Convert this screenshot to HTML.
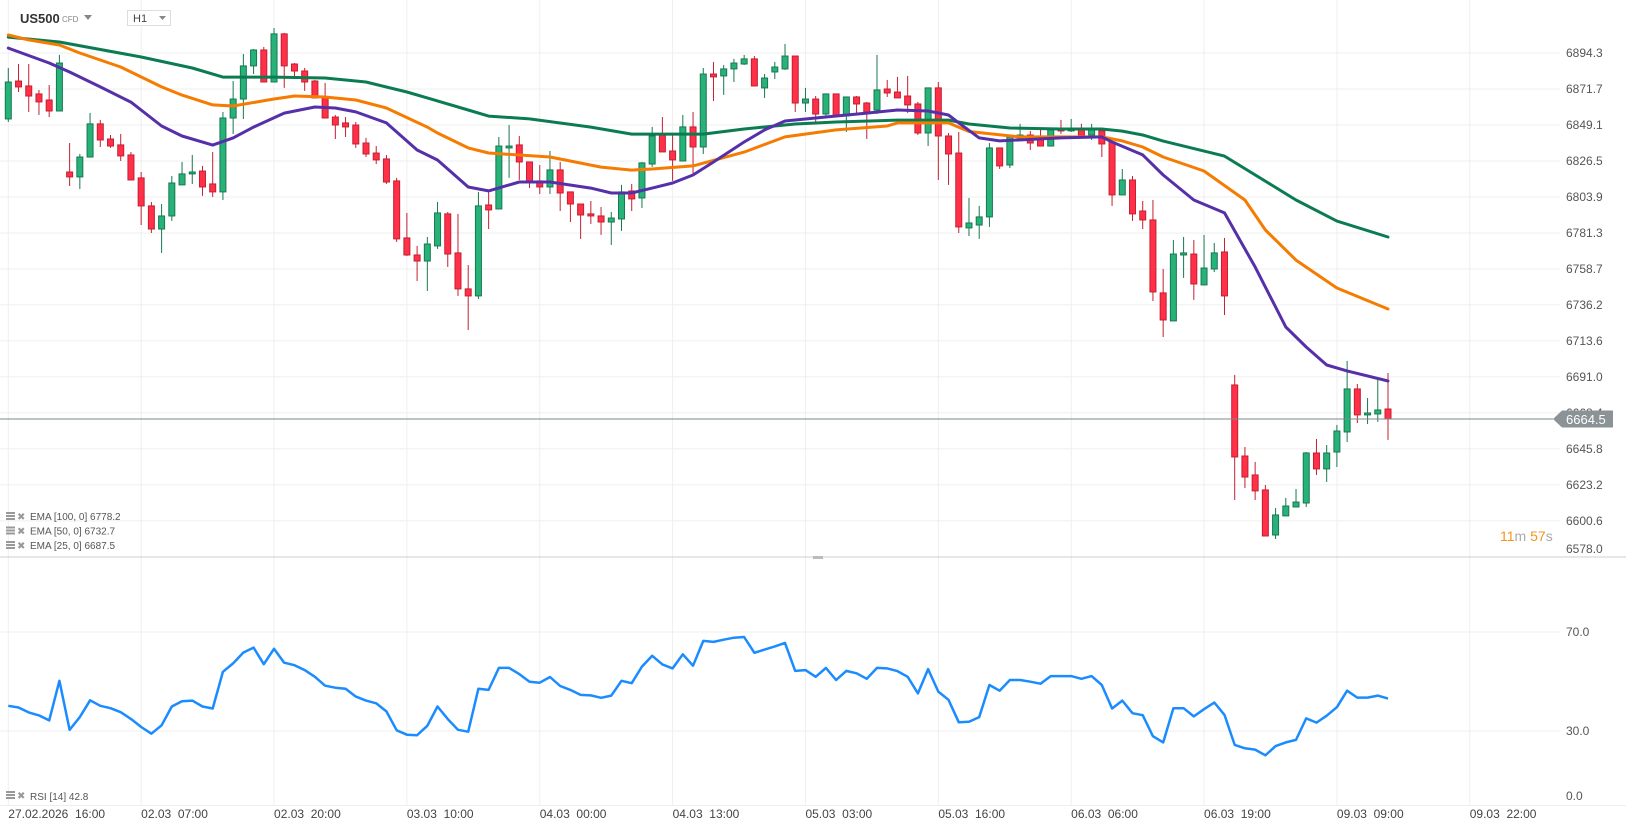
<!DOCTYPE html>
<html><head><meta charset="utf-8"><style>
html,body{margin:0;padding:0;background:#fff;}
svg{display:block;font-family:"Liberation Sans",sans-serif;}
</style></head><body>
<svg id="chart" width="1626" height="831" viewBox="0 0 1626 831" xmlns="http://www.w3.org/2000/svg">
<g id="grid"></g>
<g id="header">
  <text x="20" y="23" font-size="13" font-weight="bold" fill="#333">US500</text>
  <text x="62" y="22" font-size="8" fill="#888">CFD</text>
  <path d="M84 15 L92 15 L88 20 Z" fill="#888"/>
  <rect x="127.5" y="10.5" width="43" height="15" fill="#fff" stroke="#ddd"/>
  <text x="133" y="22" font-size="11" fill="#444">H1</text>
  <path d="M159 16 L166 16 L162.5 20 Z" fill="#888"/>
</g>
<g id="candles"></g>
<g id="emas"></g>
<g id="rsi"></g>
<g id="axes"></g>
</svg>
<script>
const candleOpen=[6852.9,6876.7,6873.6,6868.6,6864.8,6857.9,6819.6,6816.5,6829.0,6849.8,6840.3,6836.6,6830.3,6815.9,6798.3,6783.8,6792.0,6811.5,6818.4,6820.2,6812.1,6807.1,6853.5,6865.4,6886.2,6896.2,6876.1,6906.3,6887.4,6883.0,6876.7,6866.1,6854.1,6850.4,6849.1,6837.8,6831.5,6827.8,6814.0,6778.2,6767.5,6763.7,6773.2,6793.3,6768.8,6746.2,6741.8,6798.9,6796.4,6834.7,6836.6,6825.9,6814.0,6810.2,6820.9,6807.1,6799.5,6793.3,6792.0,6788.2,6790.1,6807.7,6803.3,6824.6,6842.8,6832.8,6826.5,6847.9,6835.3,6881.1,6879.9,6884.3,6887.4,6890.6,6872.4,6882.4,6884.3,6892.4,6862.9,6865.4,6856.0,6868.6,6854.8,6866.7,6862.9,6858.5,6871.7,6869.8,6867.3,6862.3,6844.1,6872.4,6842.2,6831.5,6784.5,6786.3,6791.4,6834.7,6824.0,6841.0,6842.8,6841.0,6835.9,6846.0,6845.4,6846.0,6842.8,6845.4,6838.5,6805.2,6814.6,6795.1,6789.5,6743.7,6726.1,6767.5,6768.1,6748.7,6758.7,6769.4,6685.9,6641.3,6629.4,6620.0,6591.7,6603.7,6609.3,6611.8,6643.2,6633.2,6643.8,6656.4,6683.4,6667.1,6667.7,6670.8];
const candleHigh=[6884.9,6887.4,6887.4,6871.1,6874.2,6893.1,6837.8,6830.9,6856.7,6852.3,6842.8,6843.5,6832.2,6819.6,6800.8,6799.5,6817.1,6825.9,6830.3,6823.4,6832.2,6857.3,6876.7,6893.7,6896.8,6898.1,6910.0,6906.9,6888.0,6884.9,6877.4,6875.5,6855.4,6854.1,6851.0,6841.0,6835.9,6830.3,6815.9,6793.9,6773.2,6778.8,6800.8,6794.5,6793.3,6761.2,6807.1,6807.1,6841.6,6849.1,6842.2,6825.9,6824.0,6832.8,6825.9,6807.1,6799.5,6801.4,6797.6,6794.5,6811.5,6812.1,6825.9,6847.9,6854.1,6842.8,6855.4,6857.3,6884.9,6888.7,6886.8,6890.6,6893.1,6892.4,6881.1,6888.7,6900.0,6892.4,6872.4,6867.3,6868.6,6868.6,6866.7,6867.3,6863.6,6893.1,6877.4,6879.3,6879.9,6863.6,6872.4,6876.1,6844.1,6844.7,6803.3,6798.3,6837.8,6834.7,6842.8,6849.8,6845.4,6846.0,6846.0,6852.3,6852.9,6849.8,6849.8,6846.0,6838.5,6821.5,6817.1,6801.4,6802.0,6758.7,6776.9,6778.8,6776.9,6780.1,6775.0,6778.2,6692.2,6647.0,6637.6,6623.1,6608.7,6615.0,6620.6,6643.8,6652.0,6648.2,6660.8,6701.0,6686.5,6677.7,6690.3,6693.4];
const candleLow=[6851.0,6869.8,6857.3,6855.4,6854.1,6857.9,6810.8,6808.9,6829.0,6835.3,6834.7,6826.5,6814.6,6786.3,6781.3,6768.8,6788.9,6811.5,6812.1,6804.6,6803.9,6802.0,6843.5,6852.9,6881.1,6876.1,6876.1,6872.4,6878.6,6870.5,6866.1,6853.5,6840.3,6841.6,6834.7,6829.0,6824.6,6812.1,6775.7,6766.9,6751.2,6744.9,6771.3,6760.0,6741.8,6720.4,6739.9,6783.8,6796.4,6815.9,6814.6,6809.6,6805.8,6805.8,6795.1,6788.2,6777.6,6787.0,6780.1,6773.8,6782.6,6795.1,6797.0,6822.8,6832.2,6814.0,6826.5,6818.4,6830.9,6864.2,6868.0,6876.1,6886.8,6873.6,6866.1,6878.0,6883.7,6857.3,6857.3,6851.0,6853.5,6854.1,6844.7,6855.4,6840.3,6856.0,6866.7,6866.1,6856.7,6842.8,6835.9,6814.6,6811.5,6781.3,6779.4,6777.6,6785.1,6821.5,6822.1,6840.3,6833.4,6835.9,6835.9,6843.5,6844.7,6842.2,6839.7,6829.0,6798.3,6805.2,6788.9,6783.8,6738.6,6716.0,6726.1,6753.1,6739.3,6748.7,6756.8,6729.8,6613.7,6621.2,6613.7,6591.1,6589.2,6603.7,6609.3,6609.3,6629.4,6625.0,6634.4,6650.1,6662.0,6661.4,6662.7,6651.4];
const candleClose=[6876.1,6873.0,6867.3,6863.6,6857.9,6888.0,6816.5,6829.0,6849.8,6839.7,6835.9,6829.7,6814.6,6798.3,6783.8,6792.0,6812.7,6818.4,6819.6,6810.2,6807.1,6853.5,6865.4,6886.2,6896.2,6876.1,6906.3,6886.2,6883.0,6876.1,6866.1,6853.5,6849.1,6847.9,6837.2,6830.9,6827.2,6813.3,6777.6,6767.5,6763.7,6774.4,6793.9,6768.1,6746.2,6741.8,6798.3,6795.8,6835.9,6835.9,6825.9,6814.0,6810.2,6820.9,6806.4,6799.5,6792.6,6792.0,6788.2,6790.7,6807.1,6802.7,6825.3,6842.2,6832.2,6827.2,6847.9,6835.3,6881.1,6879.3,6884.3,6888.0,6890.6,6873.6,6878.6,6885.5,6892.4,6862.9,6865.4,6856.0,6868.6,6855.4,6866.7,6862.3,6857.3,6871.1,6869.2,6866.1,6861.7,6844.1,6872.4,6842.2,6830.9,6785.1,6787.6,6791.4,6834.7,6823.4,6841.6,6842.8,6837.8,6835.9,6846.0,6845.4,6846.6,6842.2,6846.0,6837.2,6805.2,6814.6,6793.3,6789.5,6744.3,6726.7,6768.1,6768.8,6749.3,6759.3,6768.8,6741.8,6640.7,6628.1,6619.4,6591.1,6604.3,6609.9,6612.4,6643.2,6633.2,6643.2,6657.0,6683.4,6667.1,6668.3,6670.2,6664.5];

const ema100Idx=[0,5,13,18,21,26,31,35,39,41,45,47,51,57,61,68,72,77,81,87,92,94,98,103,107,109,111,113,119,126,130,135];
const ema100=[6904.3,6901.2,6891.8,6884.9,6879.2,6879.2,6878.6,6876.1,6869.8,6866.1,6858.5,6854.7,6852.9,6847.8,6843.4,6843.4,6846.6,6849.7,6851.0,6852.2,6852.2,6849.7,6847.2,6846.6,6846.6,6845.3,6842.8,6839.0,6829.6,6802.0,6788.8,6778.8];
const ema50Idx=[0,2,5,7,11,15,17,20,22,26,28,31,34,37,41,42,45,47,53,58,61,63,67,72,76,81,86,87,92,94,99,103,107,109,111,113,117,121,123,126,127,130,135];
const ema50=[6905.6,6902.5,6899.3,6894.3,6885.5,6873.0,6867.9,6861.7,6861.0,6865.4,6867.3,6866.7,6864.8,6859.8,6847.8,6844.1,6834.7,6831.5,6829.0,6822.7,6820.8,6821.5,6823.4,6832.1,6841.6,6846.0,6848.5,6850.4,6850.4,6845.0,6841.6,6841.6,6841.6,6839.1,6835.3,6829.0,6820.2,6802.0,6783.2,6764.3,6759.9,6746.8,6733.6];
const ema25Idx=[0,4,6,9,12,15,17,20,22,24,27,30,32,34,37,40,42,45,47,50,53,57,59,61,63,65,67,69,72,74,76,80,84,87,90,92,93,95,97,103,107,108,111,113,116,119,122,125,127,129,131,135];
const ema25=[6897.4,6888.0,6882.4,6873.0,6863.5,6848.5,6842.2,6836.5,6841.0,6847.8,6856.6,6860.4,6859.8,6857.3,6850.4,6833.4,6827.1,6810.2,6807.7,6813.3,6813.3,6809.5,6806.4,6806.4,6809.5,6812.7,6817.7,6825.9,6838.4,6846.0,6851.6,6854.1,6856.6,6858.5,6857.9,6855.4,6850.4,6841.0,6839.1,6841.0,6841.6,6838.4,6830.3,6817.7,6802.0,6793.9,6760.0,6722.3,6709.7,6698.4,6694.7,6688.4];

const rsiValues=[40.2,39.5,37.5,36.3,34.3,50.3,30.5,35.6,42.4,40.2,39.2,37.6,34.9,31.6,28.9,32.3,39.9,42.0,42.3,39.9,39.1,53.9,57.3,61.7,63.7,57.0,63.2,57.6,56.6,54.6,51.9,48.3,47.5,47.1,43.9,42.3,41.2,37.9,30.3,28.5,28.3,32.1,39.9,34.8,30.5,29.7,47.1,46.6,55.5,55.5,53.0,49.9,49.5,51.8,48.2,46.6,44.6,44.4,43.4,44.3,50.3,49.3,56.0,60.4,56.9,55.3,61.0,56.4,66.4,66.0,66.9,67.7,68.0,61.6,62.9,64.2,65.6,54.3,54.6,51.9,55.5,50.6,54.3,53.3,51.1,55.5,55.3,54.2,51.9,45.2,55.0,45.9,42.6,33.5,33.7,35.6,48.6,46.3,50.6,50.6,49.9,49.1,52.2,52.2,52.2,51.1,52.2,48.6,39.1,42.3,37.2,36.4,27.9,25.4,39.2,39.2,35.9,38.8,41.5,36.5,24.4,23.0,22.5,20.2,23.9,25.4,26.4,35.1,33.4,36.2,39.6,46.3,43.5,43.5,44.3,43.1];

const priceTicks=[6894.3,6871.7,6849.1,6826.5,6803.9,6781.3,6758.7,6736.2,6713.6,6691.0,6668.4,6645.8,6623.2,6600.6,6578.0];
const rsiTicks=[70.0,30.0,0.0];
const timeLabels=[["27.02.2026","16:00"],["02.03","07:00"],["02.03","20:00"],["03.03","10:00"],["04.03","00:00"],["04.03","13:00"],["05.03","03:00"],["05.03","16:00"],["06.03","06:00"],["06.03","19:00"],["09.03","09:00"],["09.03","22:00"]];
const lastPrice=6664.5;
const emaLegend=[["EMA [100, 0]","6778.2"],["EMA [50, 0]","6732.7"],["EMA [25, 0]","6687.5"]];
const rsiLegend=["RSI [14]","42.8"];

const NS="http://www.w3.org/2000/svg";
const X=i=>8.3+10.22*i;
const Y=p=>53+(6894.3-p)*1.5929;
const RY=v=>632+(70-v)*2.475;
function mk(tag,attrs,parent){const e=document.createElementNS(NS,tag);for(const k in attrs)e.setAttribute(k,attrs[k]);parent.appendChild(e);return e;}
const grid=document.getElementById('grid');
const axes=document.getElementById('axes');
const candles=document.getElementById('candles');
const emas=document.getElementById('emas');
const rsiG=document.getElementById('rsi');

priceTicks.forEach((p,k)=>{
  if(k===priceTicks.length-1)return;
  const l=mk('line',{x1:0,x2:1560,y1:Y(p),y2:Y(p),stroke:'#efefef','stroke-width':1},grid);
  
  
});
rsiTicks.slice(0,2).forEach(v=>{
  const l=mk('line',{x1:0,x2:1560,y1:RY(v),y2:RY(v),stroke:'#efefef','stroke-width':1},grid);
  
  
});
timeLabels.forEach((t,k)=>{
  const x=X(13*k);
  const l=mk('line',{x1:x,x2:x,y1:0,y2:806,stroke:'#efefef','stroke-width':1},grid);
  
  
  const tx=mk('text',{x:x,y:818,'font-size':12,fill:'#444'},axes);
  
  
  tx.textContent=t[0]+'\u00a0\u00a0'+t[1];
});
let sep=mk('line',{x1:0,x2:1626,y1:557,y2:557,stroke:'#cfcfcf','stroke-width':1},axes);


let hd=mk('rect',{x:813,y:556,width:10,height:3,fill:'#bbb'},axes);


let bsep=mk('line',{x1:0,x2:1626,y1:805.5,y2:805.5,stroke:'#eee','stroke-width':1},axes);



priceTicks.forEach((p,k)=>{
  let y=Y(p)+4;
  if(k===priceTicks.length-1)y=553;
  const t=mk('text',{x:1566,y:y,'font-size':12,fill:'#555'},axes);
  
  
  t.textContent=p.toFixed(1);
});
rsiTicks.forEach(v=>{
  let y=RY(v)+4; if(v===0)y=800;
  const t=mk('text',{x:1566,y:y,'font-size':12,fill:'#555'},axes);
  
  
  t.textContent=v.toFixed(1);
});

for(let i=0;i<candleOpen.length;i++){
  const o=candleOpen[i],h=candleHigh[i],l=candleLow[i],c=candleClose[i];
  const up=c>=o;
  const fill=up?'#27b27a':'#ff3047';
  const edge=up?'#17784f':'#c41f32';
  const x=X(i);
  const w=mk('line',{x1:x,x2:x,y1:Y(h),y2:Y(l),stroke:edge,'stroke-width':1},candles);
  
  
  const top=Y(Math.max(o,c)),bot=Y(Math.min(o,c));
  const b=mk('rect',{x:x-3,y:top,width:6,height:Math.max(1,bot-top),fill:fill,stroke:edge,'stroke-width':1},candles);
  
  
}

function emaLine(idx,vals,color,name){
  const pts=idx.map((i,k)=>X(i).toFixed(1)+','+Y(vals[k]).toFixed(1)).join(' ');
  const pl=mk('polyline',{points:pts,fill:'none',stroke:color,'stroke-width':3,'stroke-linejoin':'round','stroke-linecap':'round'},emas);
  
  
}
emaLine(ema100Idx,ema100,'#0b7c52','ema-100-line');
emaLine(ema50Idx,ema50,'#f57c00','ema-50-line');
emaLine(ema25Idx,ema25,'#5530a8','ema-25-line');

const lp=mk('line',{x1:0,x2:1553,y1:Y(lastPrice),y2:Y(lastPrice),stroke:'#7e8a8e','stroke-width':1},axes);


const ly=Y(lastPrice);
const tag=mk('path',{d:`M1553 ${ly} L1562 ${ly-8.5} L1613 ${ly-8.5} L1613 ${ly+8.5} L1562 ${ly+8.5} Z`,fill:'#8b9397'},axes);


const tt=mk('text',{x:1566,y:ly+5,'font-size':13,fill:'#fff'},axes);


tt.textContent=lastPrice.toFixed(1);

const cd=mk('text',{x:1500,y:541,'font-size':14},axes);


cd.innerHTML='<tspan fill="#f7931a">11</tspan><tspan fill="#aaa">m </tspan><tspan fill="#f7931a">57</tspan><tspan fill="#aaa">s</tspan>';

function legendIcons(y,parentName){
  const g=mk('g',{},axes);
  
  
  mk('rect',{x:6,y:y-7,width:9,height:2,fill:'#999'},g);
  mk('rect',{x:6,y:y-4,width:9,height:2,fill:'#999'},g);
  mk('rect',{x:6,y:y-1,width:9,height:2,fill:'#999'},g);
  const x=mk('text',{x:17,y:y+1,'font-size':10,fill:'#999'},g);
  x.textContent='\u2716';
}
emaLegend.forEach((e,k)=>{
  const y=519+14.5*k;
  legendIcons(y,'ema-legend-controls');
  const t=mk('text',{x:30,y:y+1,'font-size':10,fill:'#555'},axes);
  
  
  t.textContent=e[0]+' '+e[1];
});
legendIcons(798,'rsi-legend-controls');
const rl=mk('text',{x:30,y:800,'font-size':10,fill:'#555'},axes);


rl.textContent=rsiLegend[0]+' '+rsiLegend[1];

const rpts=rsiValues.map((v,i)=>X(i).toFixed(1)+','+RY(v).toFixed(1)).join(' ');
const rp=mk('polyline',{points:rpts,fill:'none',stroke:'#1a8cff','stroke-width':2.5,'stroke-linejoin':'round'},rsiG);


</script>
</body></html>
